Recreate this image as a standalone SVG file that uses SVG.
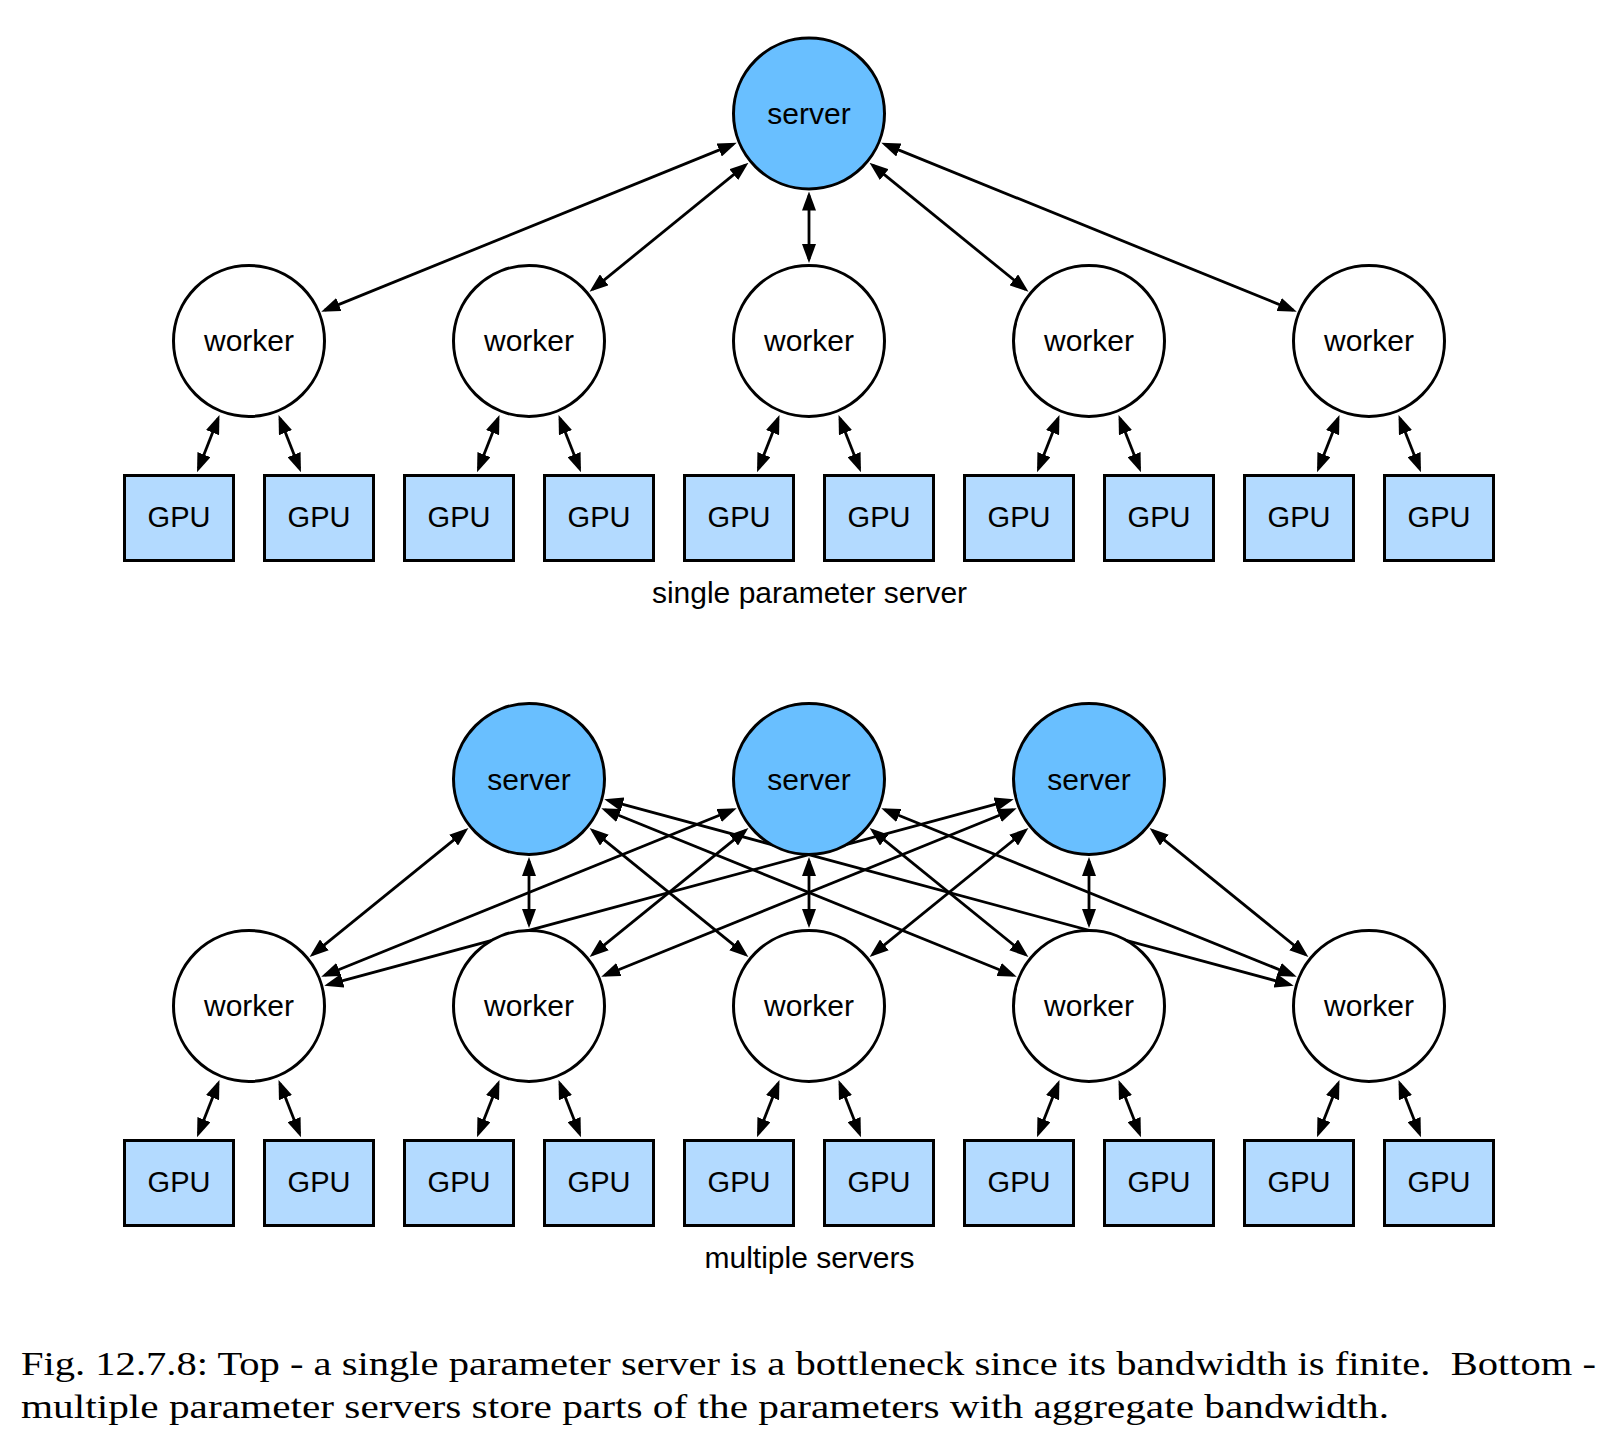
<svg xmlns="http://www.w3.org/2000/svg" width="1624" height="1450" viewBox="0 0 1624 1450">
<style>
.srv{fill:#69BFFF;stroke:#000;stroke-width:3}
.wrk{fill:#fff;stroke:#000;stroke-width:3}
.gpu{fill:#B3DAFF;stroke:#000;stroke-width:3}
.lbl{font-family:"Liberation Sans",Arial,Helvetica,sans-serif;font-size:30px;fill:#000;text-anchor:middle}
.glbl{font-family:"Liberation Sans",Arial,Helvetica,sans-serif;font-size:29px;fill:#000;text-anchor:middle}
.cap{font-family:"Liberation Serif","Times New Roman",serif;font-size:33px;fill:#000}
.c line{stroke:#000;stroke-width:2.8;fill:none;marker-start:url(#ah);marker-end:url(#ah)}
</style>
<defs>
<marker id="ah" viewBox="0 0 19 14" refX="15" refY="7" markerWidth="19" markerHeight="14" markerUnits="userSpaceOnUse" orient="auto-start-reverse"><path d="M0,0 L19,7 L0,14 Z" fill="#000"/></marker>
</defs>
<rect width="1624" height="1450" fill="#fff"/>

<g id="connectors" class="c">
<!-- top: server to workers -->
<line x1="733.03" y1="144.36" x2="324.97" y2="310.14"/>
<line x1="745.36" y1="165.21" x2="592.64" y2="289.29"/>
<line x1="809" y1="195.5" x2="809" y2="259"/>
<line x1="872.64" y1="165.21" x2="1025.36" y2="289.29"/>
<line x1="884.97" y1="144.36" x2="1293.03" y2="310.14"/>
<!-- top: workers to GPUs -->
<line x1="218" y1="418.7" x2="198.5" y2="468.6"/>
<line x1="280" y1="418.7" x2="299.5" y2="468.6"/>
<line x1="498" y1="418.7" x2="478.5" y2="468.6"/>
<line x1="560" y1="418.7" x2="579.5" y2="468.6"/>
<line x1="778" y1="418.7" x2="758.5" y2="468.6"/>
<line x1="840" y1="418.7" x2="859.5" y2="468.6"/>
<line x1="1058" y1="418.7" x2="1038.5" y2="468.6"/>
<line x1="1120" y1="418.7" x2="1139.5" y2="468.6"/>
<line x1="1338" y1="418.7" x2="1318.5" y2="468.6"/>
<line x1="1400" y1="418.7" x2="1419.5" y2="468.6"/>
<!-- bottom: servers to workers -->
<line x1="465.30" y1="830.64" x2="312.70" y2="954.36"/>
<line x1="529" y1="861" x2="529" y2="924"/>
<line x1="592.70" y1="830.64" x2="745.30" y2="954.36"/>
<line x1="604.99" y1="809.80" x2="1013.01" y2="975.20"/>
<line x1="608.16" y1="800.39" x2="1289.84" y2="984.61"/>
<line x1="733.01" y1="809.80" x2="324.99" y2="975.20"/>
<line x1="745.30" y1="830.64" x2="592.70" y2="954.36"/>
<line x1="809" y1="861" x2="809" y2="924"/>
<line x1="872.70" y1="830.64" x2="1025.30" y2="954.36"/>
<line x1="884.99" y1="809.80" x2="1293.01" y2="975.20"/>
<line x1="1009.84" y1="800.39" x2="328.16" y2="984.61"/>
<line x1="1013.01" y1="809.80" x2="604.99" y2="975.20"/>
<line x1="1025.30" y1="830.64" x2="872.70" y2="954.36"/>
<line x1="1089" y1="861" x2="1089" y2="924"/>
<line x1="1152.70" y1="830.64" x2="1305.30" y2="954.36"/>
<!-- bottom: workers to GPUs -->
<line x1="218" y1="1083.7" x2="198.5" y2="1133.6"/>
<line x1="280" y1="1083.7" x2="299.5" y2="1133.6"/>
<line x1="498" y1="1083.7" x2="478.5" y2="1133.6"/>
<line x1="560" y1="1083.7" x2="579.5" y2="1133.6"/>
<line x1="778" y1="1083.7" x2="758.5" y2="1133.6"/>
<line x1="840" y1="1083.7" x2="859.5" y2="1133.6"/>
<line x1="1058" y1="1083.7" x2="1038.5" y2="1133.6"/>
<line x1="1120" y1="1083.7" x2="1139.5" y2="1133.6"/>
<line x1="1338" y1="1083.7" x2="1318.5" y2="1133.6"/>
<line x1="1400" y1="1083.7" x2="1419.5" y2="1133.6"/>
</g>

<!-- TOP DIAGRAM -->
<g id="top-server"><circle class="srv" cx="809" cy="113.5" r="75.5"/><text class="lbl" x="809" y="124">server</text></g>
<g id="top-worker-1"><circle class="wrk" cx="249" cy="341" r="75.5"/><text class="lbl" x="249" y="351">worker</text></g>
<g id="top-worker-2"><circle class="wrk" cx="529" cy="341" r="75.5"/><text class="lbl" x="529" y="351">worker</text></g>
<g id="top-worker-3"><circle class="wrk" cx="809" cy="341" r="75.5"/><text class="lbl" x="809" y="351">worker</text></g>
<g id="top-worker-4"><circle class="wrk" cx="1089" cy="341" r="75.5"/><text class="lbl" x="1089" y="351">worker</text></g>
<g id="top-worker-5"><circle class="wrk" cx="1369" cy="341" r="75.5"/><text class="lbl" x="1369" y="351">worker</text></g>

<g id="top-gpu-1"><rect class="gpu" x="124.5" y="475.5" width="109" height="85"/><text class="glbl" x="179" y="527">GPU</text></g>
<g id="top-gpu-2"><rect class="gpu" x="264.5" y="475.5" width="109" height="85"/><text class="glbl" x="319" y="527">GPU</text></g>
<g id="top-gpu-3"><rect class="gpu" x="404.5" y="475.5" width="109" height="85"/><text class="glbl" x="459" y="527">GPU</text></g>
<g id="top-gpu-4"><rect class="gpu" x="544.5" y="475.5" width="109" height="85"/><text class="glbl" x="599" y="527">GPU</text></g>
<g id="top-gpu-5"><rect class="gpu" x="684.5" y="475.5" width="109" height="85"/><text class="glbl" x="739" y="527">GPU</text></g>
<g id="top-gpu-6"><rect class="gpu" x="824.5" y="475.5" width="109" height="85"/><text class="glbl" x="879" y="527">GPU</text></g>
<g id="top-gpu-7"><rect class="gpu" x="964.5" y="475.5" width="109" height="85"/><text class="glbl" x="1019" y="527">GPU</text></g>
<g id="top-gpu-8"><rect class="gpu" x="1104.5" y="475.5" width="109" height="85"/><text class="glbl" x="1159" y="527">GPU</text></g>
<g id="top-gpu-9"><rect class="gpu" x="1244.5" y="475.5" width="109" height="85"/><text class="glbl" x="1299" y="527">GPU</text></g>
<g id="top-gpu-10"><rect class="gpu" x="1384.5" y="475.5" width="109" height="85"/><text class="glbl" x="1439" y="527">GPU</text></g>

<text id="label-top" class="lbl" x="809.5" y="603">single parameter server</text>

<!-- BOTTOM DIAGRAM -->
<g id="bot-server-1"><circle class="srv" cx="529" cy="779" r="75.5"/><text class="lbl" x="529" y="789.5">server</text></g>
<g id="bot-server-2"><circle class="srv" cx="809" cy="779" r="75.5"/><text class="lbl" x="809" y="789.5">server</text></g>
<g id="bot-server-3"><circle class="srv" cx="1089" cy="779" r="75.5"/><text class="lbl" x="1089" y="789.5">server</text></g>

<g id="bot-worker-1"><circle class="wrk" cx="249" cy="1006" r="75.5"/><text class="lbl" x="249" y="1016">worker</text></g>
<g id="bot-worker-2"><circle class="wrk" cx="529" cy="1006" r="75.5"/><text class="lbl" x="529" y="1016">worker</text></g>
<g id="bot-worker-3"><circle class="wrk" cx="809" cy="1006" r="75.5"/><text class="lbl" x="809" y="1016">worker</text></g>
<g id="bot-worker-4"><circle class="wrk" cx="1089" cy="1006" r="75.5"/><text class="lbl" x="1089" y="1016">worker</text></g>
<g id="bot-worker-5"><circle class="wrk" cx="1369" cy="1006" r="75.5"/><text class="lbl" x="1369" y="1016">worker</text></g>

<g id="bot-gpu-1"><rect class="gpu" x="124.5" y="1140.5" width="109" height="85"/><text class="glbl" x="179" y="1192">GPU</text></g>
<g id="bot-gpu-2"><rect class="gpu" x="264.5" y="1140.5" width="109" height="85"/><text class="glbl" x="319" y="1192">GPU</text></g>
<g id="bot-gpu-3"><rect class="gpu" x="404.5" y="1140.5" width="109" height="85"/><text class="glbl" x="459" y="1192">GPU</text></g>
<g id="bot-gpu-4"><rect class="gpu" x="544.5" y="1140.5" width="109" height="85"/><text class="glbl" x="599" y="1192">GPU</text></g>
<g id="bot-gpu-5"><rect class="gpu" x="684.5" y="1140.5" width="109" height="85"/><text class="glbl" x="739" y="1192">GPU</text></g>
<g id="bot-gpu-6"><rect class="gpu" x="824.5" y="1140.5" width="109" height="85"/><text class="glbl" x="879" y="1192">GPU</text></g>
<g id="bot-gpu-7"><rect class="gpu" x="964.5" y="1140.5" width="109" height="85"/><text class="glbl" x="1019" y="1192">GPU</text></g>
<g id="bot-gpu-8"><rect class="gpu" x="1104.5" y="1140.5" width="109" height="85"/><text class="glbl" x="1159" y="1192">GPU</text></g>
<g id="bot-gpu-9"><rect class="gpu" x="1244.5" y="1140.5" width="109" height="85"/><text class="glbl" x="1299" y="1192">GPU</text></g>
<g id="bot-gpu-10"><rect class="gpu" x="1384.5" y="1140.5" width="109" height="85"/><text class="glbl" x="1439" y="1192">GPU</text></g>

<text id="label-bottom" class="lbl" x="809.5" y="1268">multiple servers</text>

<g id="caption">
<text class="cap" x="21" y="1375" textLength="1575" lengthAdjust="spacingAndGlyphs" xml:space="preserve">Fig. 12.7.8: Top - a single parameter server is a bottleneck since its bandwidth is finite.  Bottom -</text>
<text class="cap" x="21" y="1418" textLength="1368" lengthAdjust="spacingAndGlyphs">multiple parameter servers store parts of the parameters with aggregate bandwidth.</text>
</g>
</svg>
